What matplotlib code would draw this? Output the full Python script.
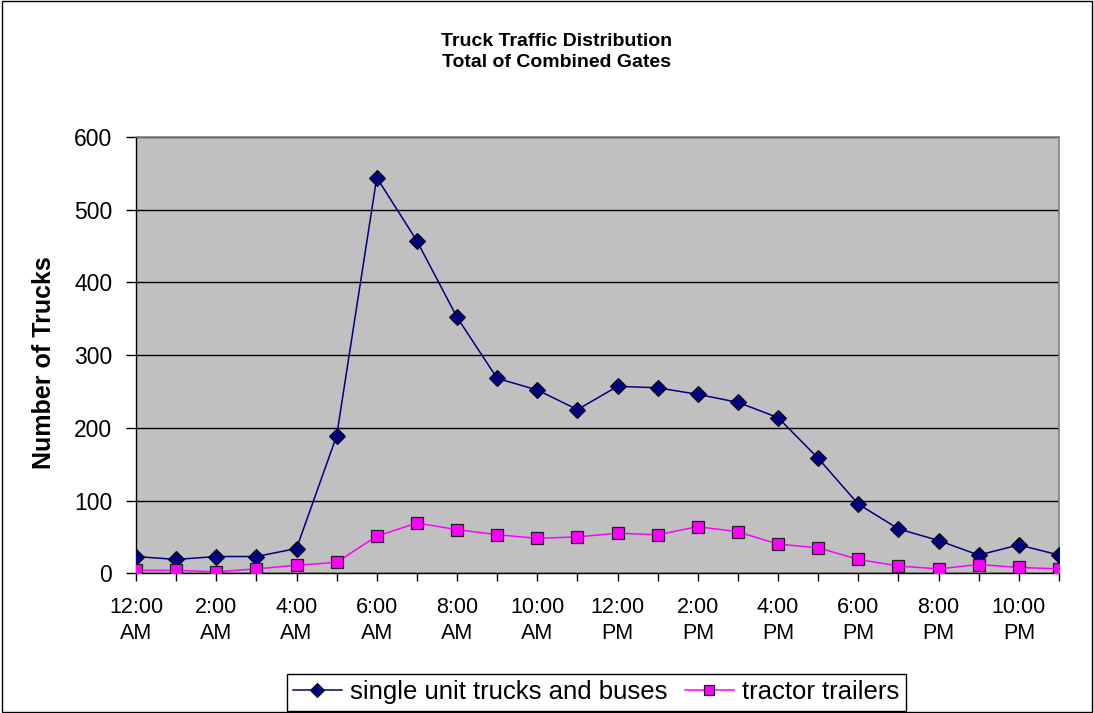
import matplotlib
matplotlib.use("Agg")
import matplotlib.pyplot as plt
from matplotlib.patches import Rectangle

plt.rcParams['font.family'] = ['Liberation Sans', 'DejaVu Sans']

# hourly categories, 12:00 AM .. 11:00 PM
hours = list(range(24))
tick_labels = ["12:00\nAM", "2:00\nAM", "4:00\nAM", "6:00\nAM", "8:00\nAM", "10:00\nAM",
               "12:00\nPM", "2:00\nPM", "4:00\nPM", "6:00\nPM", "8:00\nPM", "10:00\nPM"]

single_unit = [23, 19, 23, 23, 34, 189, 544, 457, 352, 268, 252, 225,
               257, 255, 246, 235, 214, 158, 95, 61, 45, 25, 39, 25]
tractor_trailers = [4, 4, 2, 6, 11, 15, 51, 69, 60, 53, 48, 50,
                    55, 53, 64, 57, 40, 35, 19, 10, 6, 12, 8, 6]

fig = plt.figure(figsize=(10.94, 7.13), dpi=100)
ax = fig.add_axes([0.1243, 0.196, 0.8437, 0.612])
ax.set_facecolor("#C0C0C0")

# black border round the chart area
fig.patches.append(Rectangle((0.0015, 0.0015), 0.997, 0.997, transform=fig.transFigure,
                             fill=False, edgecolor="black", linewidth=1))

ax.plot(hours, single_unit, color="#000080", linewidth=1.1, marker="D", markersize=8.5,
        markerfacecolor="#000080", markeredgecolor="black", markeredgewidth=0.8,
        label="single unit trucks and buses", zorder=3)
ax.plot(hours, tractor_trailers, color="#FF00FF", linewidth=1.1, marker="s", markersize=8.5,
        markerfacecolor="#FF00FF", markeredgecolor="#202020", markeredgewidth=0.9,
        label="tractor trailers", zorder=3)

ax.set_xlim(0, 23)
ax.set_ylim(0, 600)
ax.set_yticks(range(0, 601, 100))
ax.yaxis.grid(True, color="black", linewidth=1)
ax.set_axisbelow(True)

ax.set_xticks(hours)
ax.set_xticklabels([tick_labels[h // 2] if h % 2 == 0 else "" for h in hours])
ax.tick_params(axis="x", direction="out", length=6, width=1, labelsize=15.5, pad=11)
ax.tick_params(axis="y", direction="out", length=7, width=1, labelsize=16.5, pad=10)
for lbl in ax.get_xticklabels():
    lbl.set_linespacing(1.35)

for side in ["left", "bottom"]:
    ax.spines[side].set_color("black")
    ax.spines[side].set_linewidth(1)
for side in ["top", "right"]:
    ax.spines[side].set_color("#808080")
    ax.spines[side].set_linewidth(1.2)

fig.text(0.040, 0.491, "Number of Trucks", rotation=90, ha="center", va="center",
         fontsize=18, fontweight="bold")

fig.text(0.5087, 0.927, "Truck Traffic Distribution\nTotal of Combined Gates",
         ha="center", va="center", fontsize=14, fontweight="bold", linespacing=1.35)

leg = fig.legend(loc="lower center", bbox_to_anchor=(0.545, 0.003), ncol=2, fontsize=18.5,
                 frameon=True, fancybox=False, edgecolor="black", framealpha=1,
                 handlelength=1.9, handletextpad=0.33, columnspacing=0.66,
                 borderpad=0.25, borderaxespad=0, markerscale=0.8)
leg.get_frame().set_linewidth(1)

fig.savefig("out.png", dpi=100)
